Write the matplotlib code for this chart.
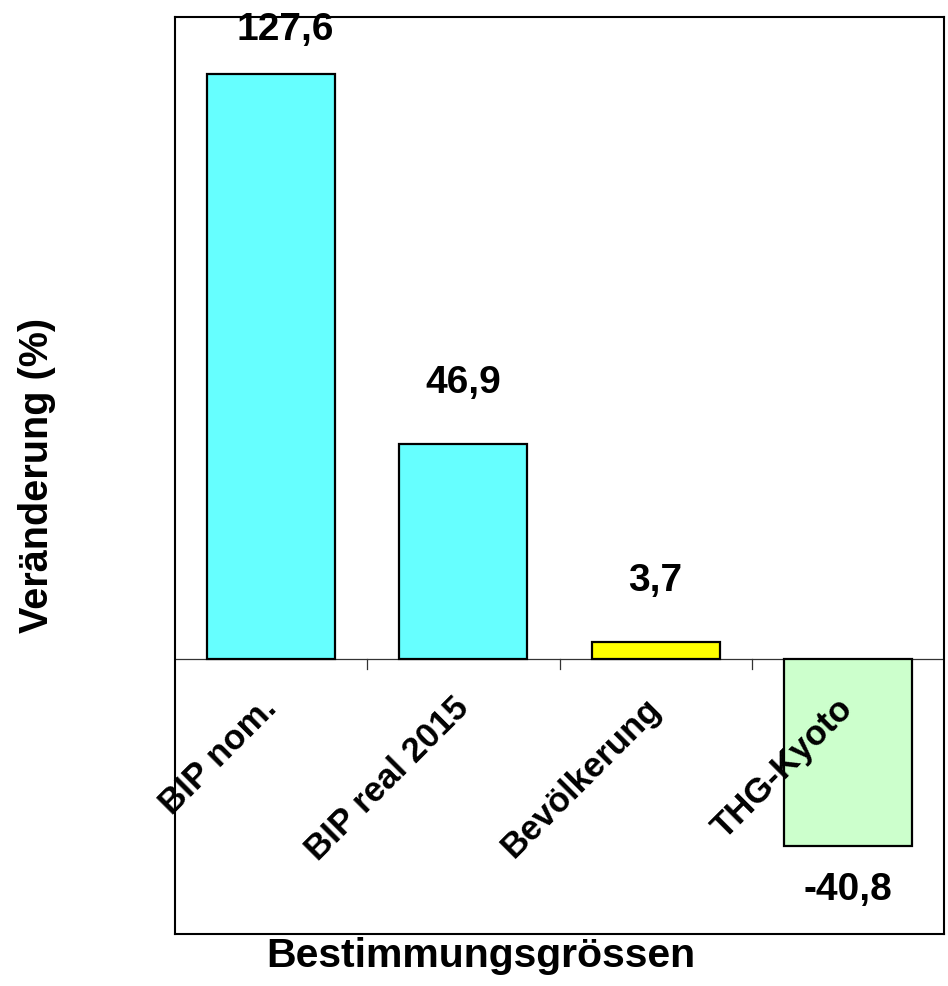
import matplotlib
matplotlib.use("Agg")
import matplotlib.pyplot as plt
import numpy as np

plt.rcParams['font.family'] = ['Liberation Sans', 'DejaVu Sans']
plt.rcParams['font.weight'] = 'bold'

# Data
categories = ["BIP nom.", "BIP real 2015", "Bevölkerung", "THG-Kyoto"]
values = [127.6, 46.9, 3.7, -40.8]
value_labels = ["127,6", "46,9", "3,7", "-40,8"]
bar_colors = ["#66FFFF", "#66FFFF", "#FFFF00", "#CCFFCC"]
y_min, y_max = -60, 140

fig = plt.figure(figsize=(9.48, 9.87), dpi=100)
ax = fig.add_axes([175 / 948, 1 - 935 / 987, (944 - 175) / 948, (935 - 18) / 987])

x = np.arange(len(categories))
ax.bar(x, values, width=0.665, color=bar_colors, edgecolor="black", linewidth=1.6, zorder=3)

ax.set_xlim(-0.5, len(categories) - 0.5)
ax.set_ylim(y_min, y_max)

# Zero line with small separators between categories
ax.axhline(0, color="#333333", linewidth=0.9, zorder=2)
tick_len = (y_max - y_min) * 10 / 917
for b in x[:-1] + 0.5:
    ax.plot([b, b], [0, -tick_len], color="#333333", linewidth=0.9, zorder=2)

ax.set_xticks([])
ax.set_yticks([])
for s in ax.spines.values():
    s.set_linewidth(1.5)
    s.set_color("black")

# Category labels along the zero line
for xi, name in zip(x, categories):
    ax.annotate(name, xy=(xi, 0), xytext=(5, -36), textcoords="offset points",
                rotation=45, rotation_mode="anchor", ha="right", va="baseline",
                fontsize=25, fontweight="bold")

# Value labels: above positive bars, below negative ones; kept inside the frame
px_per_unit = 917 / (y_max - y_min)
for xi, v, lab in zip(x, values, value_labels):
    if v >= 0:
        y_wanted = v + 52 / px_per_unit
        y_limit = y_max - 22 / px_per_unit
        if y_wanted > y_limit:
            ax.annotate(lab, xy=(xi, y_limit), xytext=(10, 0), textcoords="offset points",
                        ha="center", va="baseline", fontsize=28, fontweight="bold")
        else:
            ax.text(xi, y_wanted, lab, ha="center", va="baseline",
                    fontsize=28, fontweight="bold")
    else:
        ax.text(xi, v - 53 / px_per_unit, lab, ha="center", va="baseline",
                fontsize=28, fontweight="bold")

fig.text(481 / 948, 1 - 967 / 987, "Bestimmungsgrössen", ha="center", va="baseline",
         fontsize=29.5, fontweight="bold")
fig.text(37 / 948, 1 - 475 / 987, "Veränderung (%)", ha="center", va="center",
         rotation=90, fontsize=28.5, fontweight="bold")

fig.savefig("out.png", dpi=100)
